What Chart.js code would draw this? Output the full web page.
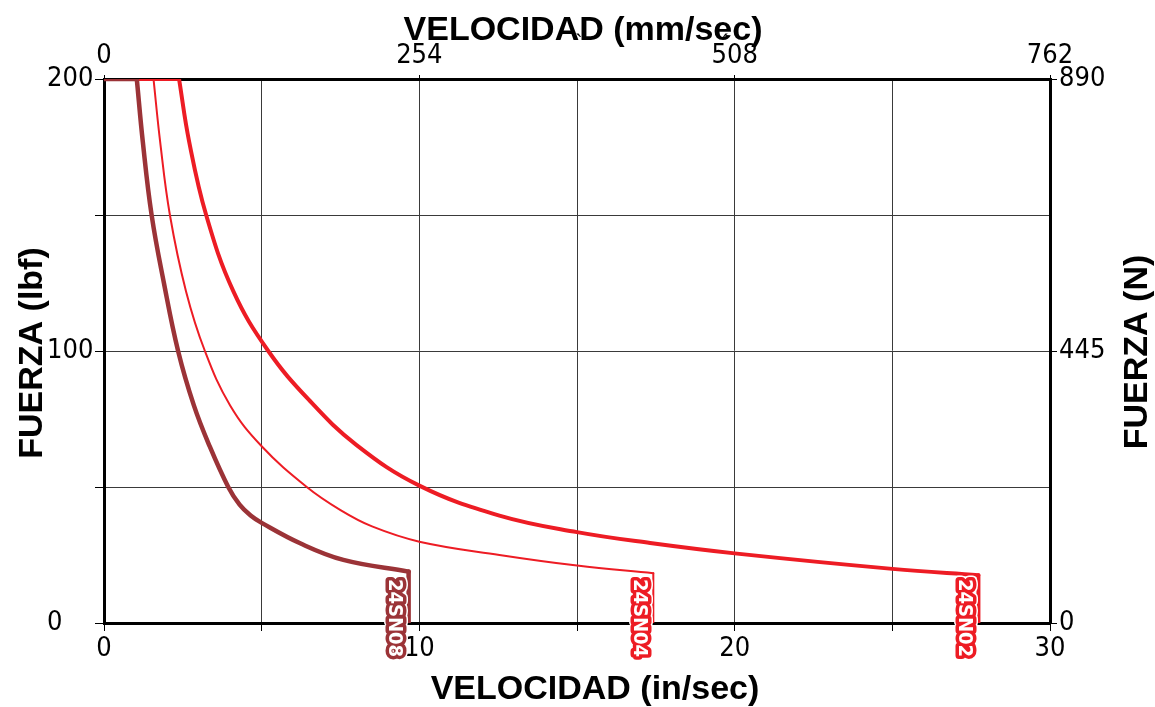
<!DOCTYPE html>
<html>
<head>
<meta charset="utf-8">
<script src="https://cdn.jsdelivr.net/npm/chart.js@4.4.1/dist/chart.umd.min.js"></script>
<style>
  html, body { margin: 0; padding: 0; background: #fff; }
  #wrap { width: 1155px; height: 707px; }
</style>
</head>
<body>
<div id="wrap"><canvas id="forceChart" width="1155" height="707"></canvas></div>
<script>
// series names (labels drawn at the end of each curve)
const seriesNames = ['24SN08', '24SN04', '24SN02'];
const seriesColors = ['#9b3337', '#ed1c24', '#ed1c24'];
const seriesWidths = [4.5, 2, 4];

// velocity (in/sec) and force (lbf)
// first two points = flat top at 200, last two = drop to 0
const sn08Speed = [0, 1.04, 1.23, 1.51, 1.9, 2.35, 2.85, 3.35, 3.94, 4.3, 4.65, 5.0, 6.22, 7.59, 9.66, 9.66];
const sn08Force = [200, 200, 177, 150, 125, 100, 80, 65, 50, 43.5, 39.5, 36.8, 29.3, 23.2, 18.9, 0];

const sn04Speed = [0, 1.57, 1.78, 2.09, 2.6, 3.2, 4.0, 5.0, 6.43, 7.5, 8.5, 10, 12.54, 15, 17.42, 17.42];
const sn04Force = [200, 200, 177, 150, 122, 100, 80, 65, 50, 41.5, 35.5, 29.9, 25, 21.1, 18.3, 0];

const sn02Speed = [0, 2.38, 2.7, 3.24, 4.1, 5.21, 6.5, 8.0, 10, 12.54, 15, 17.32, 20, 25, 27.73, 27.73];
const sn02Force = [200, 200, 177, 150, 122, 100, 82, 65.5, 50.5, 39.5, 33.4, 29.4, 25.6, 19.9, 17.6, 0];

// tick labels
const bottomTicks = [0, 10, 20, 30];
const topTicks = [0, 254, 508, 762];
const leftTicks = [0, 100, 200];
const rightTicks = [0, 445, 890];

const tickFont = { family: "'Liberation Sans Narrow', 'DejaVu Sans Condensed', sans-serif", size: 27 };
const titleFont = "bold 34px 'Liberation Sans', Arial, sans-serif";

const allSpeeds = [sn08Speed, sn04Speed, sn02Speed];
const allForces = [sn08Force, sn04Force, sn02Force];

function toPoints(xs, ys) {
    return xs.map((x, i) => ({ x: x, y: ys[i] }));
}

// the smooth part, from the corner at 200 to the end point
function curvePart(i) {
    return toPoints(allSpeeds[i], allForces[i]).slice(1, -1);
}

// flat top and final drop, straight lines
function edgePart(i) {
    const pts = toPoints(allSpeeds[i], allForces[i]);
    const n = pts.length;
    return [pts[0], pts[1], { x: pts[1].x, y: null }, pts[n - 2], pts[n - 1]];
}

// draws axis titles and the curve name tags
const labelsPlugin = {
    id: 'labelsPlugin',
    afterDraw(chart) {
        const ctx = chart.ctx;
        const xs = chart.scales.x;
        const ys = chart.scales.y;

        ctx.save();
        ctx.fillStyle = '#000';
        ctx.font = titleFont;
        ctx.textAlign = 'center';
        ctx.textBaseline = 'alphabetic';
        ctx.fillText('VELOCIDAD (mm/sec)', 583, 40);
        ctx.fillText('VELOCIDAD (in/sec)', 595, 699);

        ctx.save();
        ctx.translate(42, 353);
        ctx.rotate(-Math.PI / 2);
        ctx.fillText('FUERZA (lbf)', 0, 0);
        ctx.restore();

        ctx.save();
        ctx.translate(1147, 352);
        ctx.rotate(-Math.PI / 2);
        ctx.fillText('FUERZA (N)', 0, 0);
        ctx.restore();

        // stray marks in the original
        ctx.font = "22px 'Liberation Sans', sans-serif";
        ctx.fillText('`', 579, 50);
        ctx.fillText('´', 726, 50);
        ctx.restore();

        // name tags, rotated, just left of each end drop
        seriesNames.forEach((name, i) => {
            const sp = allSpeeds[i];
            const endX = xs.getPixelForValue(sp[sp.length - 1]);
            const cy = ys.getPixelForValue(0) - 5;
            ctx.save();
            ctx.translate(endX - 13, cy);
            ctx.rotate(Math.PI / 2);
            ctx.font = "bold 20px 'Liberation Sans Narrow', 'DejaVu Sans Condensed', sans-serif";
            ctx.textAlign = 'center';
            ctx.textBaseline = 'middle';
            ctx.lineJoin = 'round';
            ctx.strokeStyle = '#fff';
            ctx.lineWidth = 10;
            ctx.strokeText(name, 0, 1);
            ctx.strokeStyle = seriesColors[i];
            ctx.lineWidth = 7;
            ctx.strokeText(name, 0, 1);
            ctx.fillStyle = '#fff';
            ctx.fillText(name, 0, 1);
            ctx.restore();
        });
    }
};

const gridColor = '#3a3a3a';

const datasets = [];
seriesNames.forEach((name, i) => {
    datasets.push({
        label: name,
        data: curvePart(i),
        borderColor: seriesColors[i],
        borderWidth: seriesWidths[i],
        pointRadius: 0,
        fill: false,
        tension: 0.4,
        borderCapStyle: 'round',
    });
    datasets.push({
        label: name + ' edges',
        data: edgePart(i),
        borderColor: seriesColors[i],
        borderWidth: seriesWidths[i],
        pointRadius: 0,
        fill: false,
        tension: 0,
        spanGaps: false,
        borderCapStyle: 'round',
        borderJoinStyle: 'miter',
    });
});

const ctx = document.getElementById('forceChart').getContext('2d');
const forceChart = new Chart(ctx, {
    type: 'line',
    data: { datasets: datasets },
    options: {
        responsive: false,
        animation: false,
        layout: { padding: { left: 47, right: 0, top: 0, bottom: 0 } },
        plugins: {
            legend: { display: false },
            tooltip: { enabled: false },
        },
        scales: {
            x: {
                type: 'linear',
                position: 'bottom',
                min: 0,
                max: 30,
                ticks: {
                    stepSize: 5,
                    color: '#000',
                    font: tickFont,
                    padding: 2,
                    maxRotation: 0,
                    autoSkip: false,
                    callback: (v) => bottomTicks.includes(v) ? String(v) : '',
                },
                grid: { color: gridColor, lineWidth: 1, tickLength: 8, tickColor: '#000' },
                border: { color: '#000', width: 3 },
                afterFit: (scale) => { scale.height = 84; },
            },
            x2: {
                type: 'linear',
                position: 'top',
                min: 0,
                max: 762,
                afterBuildTicks: (scale) => { scale.ticks = topTicks.map(v => ({ value: v })); },
                ticks: {
                    color: '#000',
                    font: tickFont,
                    padding: 3,
                    maxRotation: 0,
                    autoSkip: false,
                },
                grid: { drawOnChartArea: false, tickLength: 4, color: '#000' },
                border: { color: '#000', width: 3 },
                afterFit: (scale) => { scale.height = 79; },
            },
            y: {
                type: 'linear',
                position: 'left',
                min: 0,
                max: 200,
                ticks: {
                    stepSize: 50,
                    color: '#000',
                    font: tickFont,
                    padding: 3,
                    crossAlign: 'far',
                    callback: (v) => leftTicks.includes(v) ? String(v) : '',
                },
                grid: { color: gridColor, lineWidth: 1, tickLength: 9, tickColor: '#000' },
                border: { color: '#000', width: 3 },
                afterFit: (scale) => { scale.width = 57; },
            },
            y2: {
                type: 'linear',
                position: 'right',
                min: 0,
                max: 890,
                afterBuildTicks: (scale) => { scale.ticks = rightTicks.map(v => ({ value: v })); },
                ticks: {
                    color: '#000',
                    font: tickFont,
                    padding: 2,
                },
                grid: { drawOnChartArea: false, tickLength: 7, color: '#000' },
                border: { color: '#000', width: 3 },
                afterFit: (scale) => { scale.width = 105; },
            },
        },
    },
    plugins: [labelsPlugin],
});
</script>
</body>
</html>
